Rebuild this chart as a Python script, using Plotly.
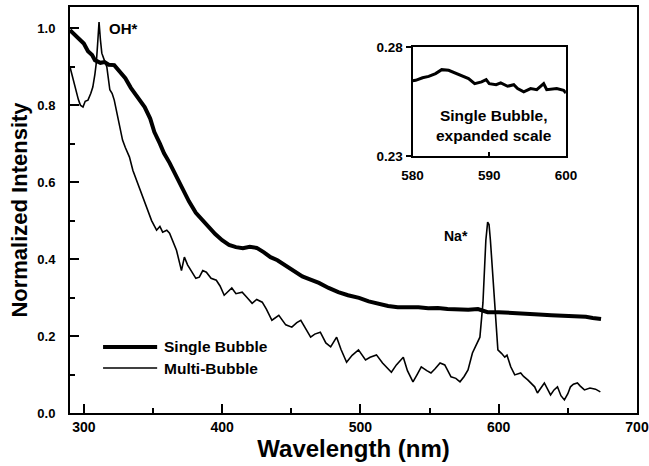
import plotly.graph_objects as go

# ---- data ----
single_x = [290, 293, 296, 300, 303, 306, 308, 312, 315, 318, 322, 326, 330, 334, 337, 341, 344, 348, 351,
            355, 358, 362, 366, 371, 376, 381, 386, 391, 395, 400, 405, 410, 415, 420, 425, 430, 435, 440,
            446, 453, 458, 463, 470, 477, 484, 491, 499, 506, 513, 520, 527, 534, 542, 549, 556, 563, 571,
            578, 585, 592, 600, 607, 614, 621, 629, 638, 646, 652, 657, 663, 668, 674]
single_y = [0.995, 0.985, 0.975, 0.96, 0.94, 0.93, 0.917, 0.91, 0.912, 0.905, 0.904, 0.886, 0.87, 0.845,
            0.83, 0.81, 0.795, 0.765, 0.73, 0.70, 0.675, 0.65, 0.62, 0.587, 0.55, 0.52, 0.50, 0.483, 0.465,
            0.449, 0.437, 0.431, 0.428, 0.432, 0.429, 0.418, 0.405, 0.397, 0.382, 0.366, 0.355, 0.348, 0.338,
            0.325, 0.314, 0.306, 0.299, 0.29, 0.283, 0.278, 0.275, 0.276, 0.275, 0.272, 0.273, 0.27, 0.268,
            0.268, 0.27, 0.262, 0.262, 0.26, 0.26, 0.258, 0.256, 0.254, 0.253, 0.252, 0.25, 0.25, 0.247, 0.244]

multi_x = [290, 292, 294, 296, 297.5, 299.4, 301, 303, 305, 306.5, 308, 309, 310, 311, 312, 313, 315, 316.6,
           318.8, 320.5, 322, 324.5, 326, 328, 330, 333, 335.5, 338, 341, 345, 349, 352.6, 355, 357, 360,
           362, 364.5, 367, 370.6, 372.7, 375, 378.5, 381, 383.5, 386, 388.6, 392, 395.8, 398.5, 401.5, 404,
           407, 410, 414.5, 418, 421.7, 425, 429, 432, 436, 441, 446, 450.4, 454, 456.9, 460, 464, 467, 471,
           475, 478.5, 482.8, 486, 490, 494, 498.6, 503.7, 507, 511.6, 516, 522.4, 526, 531, 534, 538, 541,
           544, 548, 551, 554, 557.6, 561, 565.5, 569, 572, 575, 577.8, 581, 584, 586.4, 588.6, 590.7, 592,
           593, 594, 597, 599.4, 602, 604.4, 606, 608.7, 611.6, 615.9, 618, 621, 626, 628, 633, 637.5, 640,
           642.5, 645, 647.5, 650, 651.9, 654, 656.9, 659, 662, 666, 670, 673.5]
multi_y = [0.899, 0.87, 0.84, 0.815, 0.80, 0.795, 0.81, 0.813, 0.83, 0.847, 0.88, 0.909, 0.96, 1.016, 0.97,
           0.935, 0.915, 0.90, 0.84, 0.83, 0.813, 0.769, 0.745, 0.709, 0.69, 0.665, 0.63, 0.605, 0.575, 0.535,
           0.50, 0.475, 0.485, 0.47, 0.475, 0.467, 0.445, 0.423, 0.37, 0.405, 0.385, 0.364, 0.35, 0.353, 0.37,
           0.366, 0.35, 0.345, 0.33, 0.306, 0.315, 0.325, 0.31, 0.314, 0.30, 0.285, 0.295, 0.288, 0.27, 0.241,
           0.254, 0.229, 0.223, 0.235, 0.241, 0.22, 0.197, 0.205, 0.21, 0.182, 0.172, 0.197, 0.165, 0.132,
           0.15, 0.164, 0.138, 0.145, 0.151, 0.13, 0.106, 0.125, 0.145, 0.11, 0.081, 0.10, 0.12, 0.11, 0.104,
           0.115, 0.13, 0.125, 0.094, 0.09, 0.081, 0.095, 0.112, 0.156, 0.18, 0.197, 0.286, 0.449, 0.496,
           0.49, 0.449, 0.275, 0.164, 0.155, 0.145, 0.15, 0.12, 0.099, 0.104, 0.095, 0.086, 0.068, 0.052,
           0.078, 0.047, 0.06, 0.068, 0.045, 0.034, 0.05, 0.068, 0.075, 0.078, 0.07, 0.06, 0.065, 0.062, 0.055]

inset_x = [580, 580.4, 581.3, 582.1, 583.0, 583.8, 584.7, 585.6, 586.4, 587.3, 588.1, 589.0, 589.6, 590.0,
           590.9, 591.5, 592.4, 593.2, 593.7, 594.5, 595.4, 596.2, 597.1, 597.5, 598.8, 599.7, 600]
inset_y = [0.2645, 0.2647, 0.2659, 0.2665, 0.2678, 0.2696, 0.2693, 0.2681, 0.2667, 0.2655, 0.2632, 0.264,
           0.265, 0.2632, 0.2627, 0.2635, 0.262, 0.2627, 0.2609, 0.2594, 0.2609, 0.2604, 0.2632, 0.2604,
           0.2609, 0.2601, 0.2589]

x_ticks = [300, 400, 500, 600, 700]
y_ticks = [0.0, 0.2, 0.4, 0.6, 0.8, 1.0]
inset_x_ticks = [580, 590, 600]
inset_y_ticks = [0.23, 0.28]

FONT = "Liberation Sans"


def bold(size):
    return dict(family=FONT, size=size, color="black", weight="bold")


fig = go.Figure()
fig.add_trace(go.Scatter(x=single_x, y=single_y, mode="lines", name="Single Bubble",
                         line=dict(color="black", width=4), xaxis="x", yaxis="y"))
fig.add_trace(go.Scatter(x=multi_x, y=multi_y, mode="lines", name="Multi-Bubble",
                         line=dict(color="black", width=1.6), xaxis="x", yaxis="y"))
fig.add_trace(go.Scatter(x=inset_x, y=inset_y, mode="lines", name="inset",
                         line=dict(color="black", width=3), xaxis="x2", yaxis="y2"))

fig.update_layout(
    width=649, height=466,
    margin=dict(l=70, r=12, t=7, b=53),
    paper_bgcolor="white", plot_bgcolor="white",
    showlegend=False,
    xaxis=dict(range=[290, 700], tickvals=x_ticks, ticks="inside", ticklen=9, tickwidth=2,
               tickcolor="black", showline=True, linecolor="black", linewidth=2, mirror=True,
               showgrid=False, zeroline=False, tickfont=bold(14), automargin=False,
               ticklabeloverflow="allow",
               minor=dict(ticks="inside", ticklen=5, tickwidth=1.5, tickcolor="black", dtick=50,
                          showgrid=False),
               title=dict(text="Wavelength (nm)", standoff=4, font=bold(24))),
    yaxis=dict(range=[0, 1.055], tickvals=y_ticks, tickformat=".1f", ticks="inside", ticklen=9,
               tickwidth=2, tickcolor="black", showline=True, linecolor="black", linewidth=2,
               mirror=True, showgrid=False, zeroline=False, tickfont=bold(13), automargin=False,
               ticklabelstandoff=10,
               minor=dict(ticks="inside", ticklen=5, tickwidth=1.5, tickcolor="black", dtick=0.1,
                          showgrid=False),
               title=dict(text="Normalized Intensity", standoff=4, font=bold(22))),
    xaxis2=dict(domain=[0.6042, 0.8746], anchor="y2", range=[580, 600], tickvals=inset_x_ticks,
                ticks="inside", ticklen=4, tickwidth=1.5, tickcolor="black", showline=True,
                linecolor="black", linewidth=2, mirror=True, showgrid=False, zeroline=False,
                tickfont=bold(13.5), automargin=False, ticklabelstandoff=6),
    yaxis2=dict(domain=[0.633, 0.9015], anchor="x2", range=[0.23, 0.28], tickvals=inset_y_ticks,
                tickformat=".2f", ticks="outside", ticklen=5, tickwidth=1.5, tickcolor="black",
                showline=True, linecolor="black", linewidth=2, mirror=True, showgrid=False,
                zeroline=False, tickfont=bold(13.5), automargin=False),
)

fig.add_annotation(x=328.8, y=1.0, xref="x", yref="y", text="OH*", showarrow=False, font=bold(15))
fig.add_annotation(x=569, y=0.46, xref="x", yref="y", text="Na*", showarrow=False, font=bold(14))
fig.add_annotation(x=590.6, y=0.2442, xref="x2", yref="y2", text="Single Bubble,<br>expanded scale",
                   showarrow=False, borderpad=0, font=bold(15.5))

# legend drawn manually
fig.add_shape(type="line", xref="paper", yref="paper", x0=0.0583, x1=0.1537, y0=0.1626, y1=0.1626,
              line=dict(color="black", width=4))
fig.add_shape(type="line", xref="paper", yref="paper", x0=0.0583, x1=0.1537, y0=0.1108, y1=0.1108,
              line=dict(color="black", width=1.6))
fig.add_annotation(x=0.1625, y=0.1626, xref="paper", yref="paper", text="Single Bubble",
                   showarrow=False, xanchor="left", yanchor="middle", font=bold(15.5))
fig.add_annotation(x=0.1625, y=0.1108, xref="paper", yref="paper", text="Multi-Bubble",
                   showarrow=False, xanchor="left", yanchor="middle", font=bold(15.5))

fig.write_html("out.html", config={"displayModeBar": False},
               post_script="document.body.style.margin='0';")
